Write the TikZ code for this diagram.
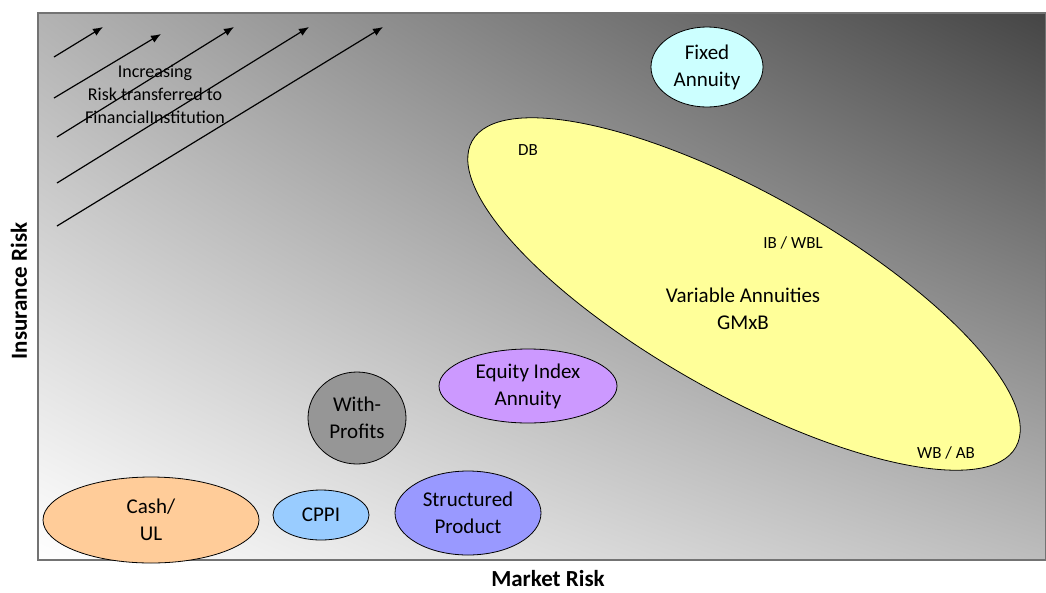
\documentclass[tikz,border=0pt]{standalone}
\usepackage{fontspec}
\setmainfont{Carlito}
\usetikzlibrary{shapes.geometric,shadings,arrows.meta}
\definecolor{fixedcol}{RGB}{204,255,255}
\definecolor{vacol}{RGB}{255,255,153}
\definecolor{eiacol}{RGB}{204,153,255}
\definecolor{wpcol}{RGB}{150,150,150}
\definecolor{cashcol}{RGB}{255,204,153}
\definecolor{cppicol}{RGB}{153,204,255}
\definecolor{spcol}{RGB}{153,153,255}
\begin{document}
\begin{tikzpicture}[x=1pt,y=-1pt]
		\tikzset{> = {Latex[length = 10pt,width = 8pt]}}
		\tikzset{prod/.style = {ellipse,draw = black,line width = 0.8pt,inner sep = 0pt,align = center,font = \fontsize{21}{27}\selectfont}}
		\tikzset{tag/.style = {font = \fontsize{17}{20}\selectfont}}
		\tikzset{axis/.style = {inner sep = 0pt,font = \fontsize{23}{27}\selectfont\bfseries}}
		\useasboundingbox (0,0) rectangle (1046,592);
		\shade [lower left = white,upper right = black!73,upper left = black!30,lower right = black!26] (38,13) rectangle (1046,560);
		\draw [line width = 1.5pt,black!55] (38,13) rectangle (1046,560);
		\foreach \i/\xa/\ya/\xb/\yb in {1/54/57/103/27,2/54/98/161/34,3/57/137/234/27,4/57/183/309/27,5/57/226/383/27}
		{
			\coordinate (s\i) at (\xa,\ya);
			\coordinate (t\i) at (\xb,\yb);
			\draw [->,line width = 1.2pt] (s\i) -- (t\i);
		}
		\node [align = center,font = \fontsize{18}{23}\selectfont] (incr) at (155,94) {Increasing\\Risk transferred to\\FinancialInstitution};
		\filldraw [fill = vacol,line width = 0.8pt,rotate around = {-29.4:(744,294)}] (744,294) ellipse [x radius = 312,y radius = 100];
		\node [tag] (db) at (528,150) {DB};
		\node [tag] (ib) at (793,243) {IB / WBL};
		\node [tag] (wb) at (946,453) {WB / AB};
		\node [align = center,font = \fontsize{21}{27}\selectfont] (va) at (743,309) {Variable Annuities\\GMxB};
		\node [prod,fill = fixedcol,minimum width = 112,minimum height = 80] (fixed) at (707,67) {Fixed\\Annuity};
		\node [prod,fill = eiacol,minimum width = 178,minimum height = 74] (eia) at (528,386) {Equity Index\\Annuity};
		\node [prod,fill = wpcol,minimum width = 98,minimum height = 92] (wp) at (357,418) {With-\\Profits};
		\node [prod,fill = cashcol,minimum width = 216,minimum height = 86] (cash) at (151,520) {Cash/\\UL};
		\node [prod,fill = cppicol,minimum width = 96,minimum height = 50] (cppi) at (321,515) {CPPI};
		\node [prod,fill = spcol,minimum width = 146,minimum height = 84] (sp) at (468,513) {Structured\\Product};
		\node [axis,rotate = 90] (ir) at (19,291) {Insurance Risk};
		\node [axis,anchor = base] (mr) at (548,586) {Market Risk};
	\end{tikzpicture}
\end{document}
